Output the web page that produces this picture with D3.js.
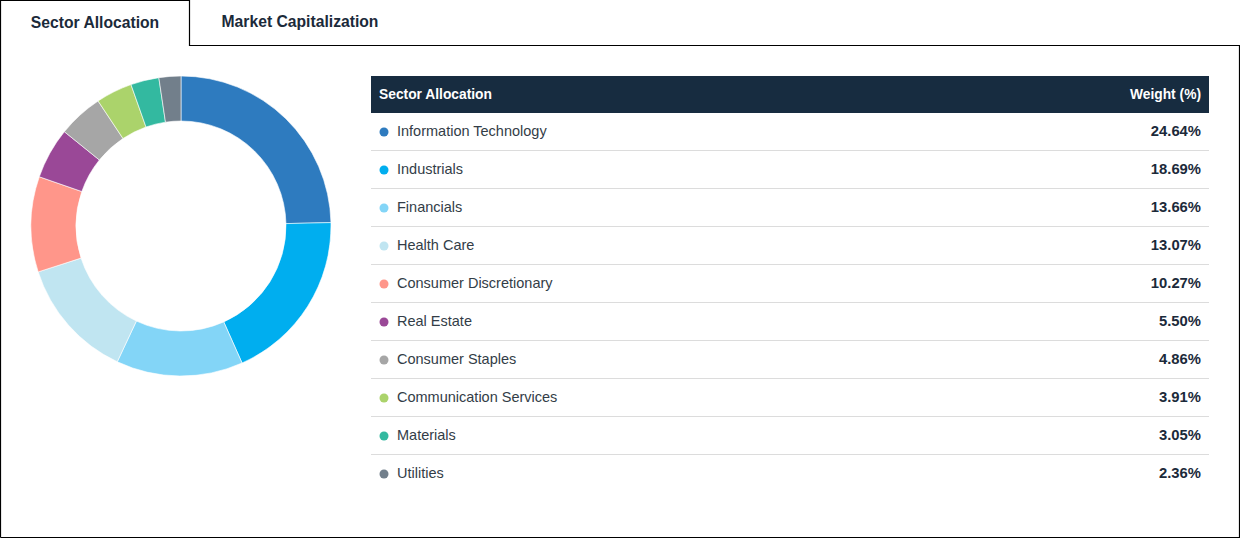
<!DOCTYPE html>
<html>
<head>
<meta charset="utf-8">
<script src="https://cdn.jsdelivr.net/npm/d3@7"></script>
<style>
  html, body { margin: 0; padding: 0; background: #fff; }
  svg { display: block; font-family: "Liberation Sans", Arial, sans-serif; }
  .tab { font-size: 15.7px; font-weight: bold; fill: #1b2a3a; }
  .head { font-size: 13.8px; font-weight: bold; fill: #fff; }
  .label { font-size: 14.5px; fill: #333d47; }
  .value { font-size: 14.8px; font-weight: bold; fill: #1b2a3a; }
</style>
</head>
<body>
<svg id="chart" width="1240" height="538"></svg>
<script>
const sectors = ["Information Technology", "Industrials", "Financials", "Health Care",
    "Consumer Discretionary", "Real Estate", "Consumer Staples",
    "Communication Services", "Materials", "Utilities"];
const weights = [24.64, 18.69, 13.66, 13.07, 10.27, 5.50, 4.86, 3.91, 3.05, 2.36];
const colors = ["#2e7bbf", "#00aeef", "#83d5f7", "#c0e5f1", "#ff968a",
    "#9a4897", "#a6a6a6", "#abd36b", "#33b9a0", "#727f8b"];
const tabs = ["Sector Allocation", "Market Capitalization"];
const tableHeader = ["Sector Allocation", "Weight (%)"];

const data = sectors.map((s, i) => ({name: s, value: weights[i], color: colors[i]}));

const svg = d3.select("#chart");

// tabs + frame
const tabW = 189, tabH = 45;
svg.append("path")
    .attr("d", `M0.5,537.5 V0.5 H${tabW + 0.5} V${tabH + 0.5} H1239.5 V537.5 H0.5`)
    .attr("fill", "none")
    .attr("stroke", "#000")
    .attr("stroke-width", 1.2);

svg.selectAll(".tab").data(tabs).enter()
    .append("text")
    .attr("class", "tab")
    .attr("x", (d, i) => i === 0 ? 95 : 300)
    .attr("y", (d, i) => i === 0 ? 28 : 27)
    .attr("text-anchor", "middle")
    .text(d => d);

// donut
const cx = 181, cy = 226, outerR = 150, innerR = 105;
const pie = d3.pie().sort(null).value(d => d.value);
const arc = d3.arc().innerRadius(innerR).outerRadius(outerR);

svg.append("g")
    .attr("transform", `translate(${cx},${cy})`)
    .selectAll("path")
    .data(pie(data))
    .enter()
    .append("path")
    .attr("d", arc)
    .attr("fill", d => d.data.color)
    .attr("stroke", "#fff")
    .attr("stroke-width", 0.6);

// table
const tX = 371, tW = 838, headY = 76, headH = 37, rowH = 38;
const rowScale = d3.scaleBand()
    .domain(sectors)
    .range([headY + headH, headY + headH + rowH * sectors.length]);

const table = svg.append("g").attr("class", "table");

table.append("rect")
    .attr("x", tX).attr("y", headY)
    .attr("width", tW).attr("height", headH)
    .attr("fill", "#172c40");

table.append("text").attr("class", "head")
    .attr("x", tX + 8).attr("y", headY + headH / 2 + 4)
    .text(tableHeader[0]);
table.append("text").attr("class", "head")
    .attr("x", tX + tW - 8).attr("y", headY + headH / 2 + 4)
    .attr("text-anchor", "end")
    .text(tableHeader[1]);

const rows = table.selectAll(".row").data(data).enter()
    .append("g")
    .attr("class", "row")
    .attr("transform", d => `translate(0,${rowScale(d.name)})`);

rows.filter((d, i) => i < data.length - 1)
    .append("line")
    .attr("x1", tX).attr("x2", tX + tW)
    .attr("y1", rowH - 0.5).attr("y2", rowH - 0.5)
    .attr("stroke", "#dcdcdc")
    .attr("stroke-width", 1);

rows.append("circle")
    .attr("cx", tX + 13).attr("cy", rowH / 2)
    .attr("r", 4.5)
    .attr("fill", d => d.color);

rows.append("text").attr("class", "label")
    .attr("x", tX + 26).attr("y", rowH / 2 + 4)
    .text(d => d.name);

rows.append("text").attr("class", "value")
    .attr("x", tX + tW - 8).attr("y", rowH / 2 + 4)
    .attr("text-anchor", "end")
    .text(d => d.value.toFixed(2) + "%");
</script>
</body>
</html>
